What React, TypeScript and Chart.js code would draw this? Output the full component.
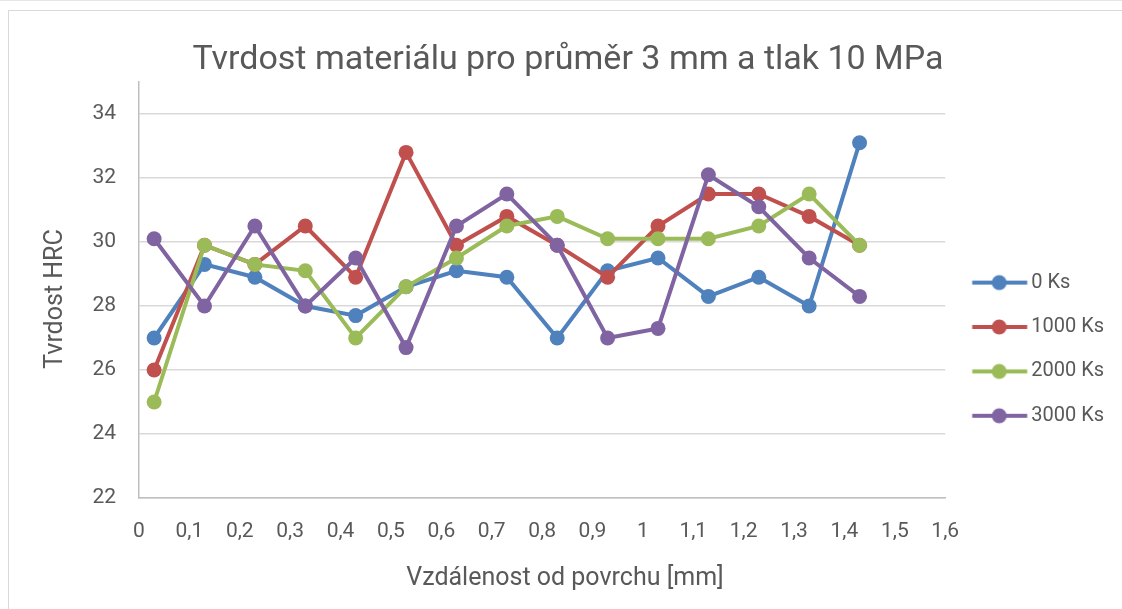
import React, { useEffect, useRef } from "react";
import { Chart, registerables } from "chart.js";

Chart.register(...registerables);

const xValues = [0.03, 0.13, 0.23, 0.33, 0.43, 0.53, 0.63, 0.73, 0.83, 0.93, 1.03, 1.13, 1.23, 1.33, 1.43];
const seriesNames = ["0 Ks", "1000 Ks", "2000 Ks", "3000 Ks"];
const s0 = [27.0, 29.3, 28.9, 28.0, 27.7, 28.6, 29.1, 28.9, 27.0, 29.1, 29.5, 28.3, 28.9, 28.0, 33.1];
const s1000 = [26.0, 29.9, 29.3, 30.5, 28.9, 32.8, 29.9, 30.8, 29.9, 28.9, 30.5, 31.5, 31.5, 30.8, 29.9];
const s2000 = [25.0, 29.9, 29.3, 29.1, 27.0, 28.6, 29.5, 30.5, 30.8, 30.1, 30.1, 30.1, 30.5, 31.5, 29.9];
const s3000 = [30.1, 28.0, 30.5, 28.0, 29.5, 26.7, 30.5, 31.5, 29.9, 27.0, 27.3, 32.1, 31.1, 29.5, 28.3];
const seriesValues = [s0, s1000, s2000, s3000];
const colors = ["#4f81bd", "#c0504d", "#9bbb59", "#8064a2"];
const xTicks = [0, 0.1, 0.2, 0.3, 0.4, 0.5, 0.6, 0.7, 0.8, 0.9, 1.0, 1.1, 1.2, 1.3, 1.4, 1.5, 1.6];
const yTicks = [22, 24, 26, 28, 30, 32, 34];
const chartTitle = "Tvrdost materiálu pro průměr 3 mm a tlak 10 MPa";
const xTitle = "Vzdálenost od povrchu [mm]";
const yTitle = "Tvrdost HRC";

const TEXT = "#595959";
const FONT = "Roboto";
const FRAME_LEFT = 8;

function makeLegendImage(color: string): HTMLCanvasElement {
  const c = document.createElement("canvas");
  c.width = 66;
  c.height = 20;
  const ctx = c.getContext("2d")!;
  ctx.strokeStyle = color;
  ctx.lineWidth = 4;
  ctx.beginPath();
  ctx.moveTo(9.8, 10);
  ctx.lineTo(64.8, 10);
  ctx.stroke();
  ctx.fillStyle = color;
  ctx.beginPath();
  ctx.arc(36.8, 10, 7.5, 0, Math.PI * 2);
  ctx.fill();
  return c;
}

const axisTitlePlugin = {
  id: "axisTitles",
  afterDraw(chart: any) {
    const { ctx, chartArea } = chart;
    ctx.save();
    ctx.fillStyle = TEXT;
    ctx.font = `25px ${FONT}`;
    ctx.textAlign = "center";
    ctx.textBaseline = "middle";
    ctx.fillText(xTitle, (FRAME_LEFT + chart.width) / 2, chart.height - 30);
    ctx.translate(56, (chartArea.top + chartArea.bottom) / 2 + 9);
    ctx.rotate(-Math.PI / 2);
    ctx.fillText(yTitle, 0, 0);
    ctx.restore();
  },
};

export default function App() {
  const ref = useRef<HTMLCanvasElement | null>(null);

  useEffect(() => {
    if (!ref.current) return;
    const legendImages = colors.map(makeLegendImage);
    const chart = new Chart(ref.current, {
      type: "line",
      data: {
        datasets: seriesValues.map((vals, i) => ({
          label: seriesNames[i],
          data: xValues.map((x, j) => ({ x, y: vals[j] })),
          borderColor: colors[i],
          backgroundColor: colors[i],
          borderWidth: 4,
          pointRadius: 7.5,
          pointHoverRadius: 7.5,
          pointBorderWidth: 0,
          pointBackgroundColor: colors[i],
          tension: 0,
          fill: false,
          order: seriesValues.length - i,
        })),
      },
      plugins: [axisTitlePlugin],
      options: {
        animation: false,
        responsive: false,
        events: [],
        layout: { padding: { left: 22, right: 8, top: 0, bottom: 0 } },
        plugins: {
          title: {
            display: true,
            text: chartTitle,
            color: TEXT,
            font: { family: FONT, size: 34, weight: "normal" },
            padding: { top: 40, bottom: 1.2 },
          },
          legend: {
            position: "right",
            align: "center",
            maxWidth: 176,
            title: {
              display: true,
              text: " ",
              font: { family: FONT, size: 1 },
              padding: { top: 88.2, bottom: 0 },
            },
            labels: {
              usePointStyle: true,
              pointStyleWidth: 51.6,
              boxHeight: 20,
              padding: 24.4,
              color: TEXT,
              font: { family: FONT, size: 20 },
              generateLabels: (ch: any) =>
                ch.data.datasets.map((ds: any, i: number) => ({
                  text: ds.label,
                  fillStyle: colors[i],
                  strokeStyle: colors[i],
                  lineWidth: 0,
                  pointStyle: legendImages[i],
                  datasetIndex: i,
                  hidden: false,
                  fontColor: TEXT,
                })),
            },
          },
          tooltip: { enabled: false },
        },
        scales: {
          x: {
            type: "linear",
            min: 0,
            max: 1.6,
            afterBuildTicks: (scale: any) => {
              scale.ticks = xTicks.map((v) => ({ value: v }));
            },
            afterFit: (scale: any) => {
              scale.height = 111;
            },
            grid: { display: false, drawTicks: false },
            border: { display: true, color: "#bfbfbf", width: 1.5 },
            ticks: {
              color: TEXT,
              font: { family: FONT, size: 21 },
              padding: 21,
              maxRotation: 0,
              autoSkip: false,
              callback: (v: any) => String(Number(Number(v).toFixed(1))).replace(".", ","),
            },
            title: { display: false },
          },
          y: {
            type: "linear",
            min: 22,
            max: 35,
            afterBuildTicks: (scale: any) => {
              scale.ticks = yTicks.map((v) => ({ value: v }));
            },
            afterFit: (scale: any) => {
              scale.width = 117;
            },
            grid: { color: "#d9d9d9", lineWidth: 1.5, drawTicks: false },
            border: { display: true, color: "#bfbfbf", width: 1.5 },
            ticks: {
              color: TEXT,
              font: { family: FONT, size: 21 },
              padding: 23,
              callback: (v: any) => String(v),
            },
            title: { display: false },
          },
        },
      },
    });
    return () => chart.destroy();
  }, []);

  return (
    <div>
      <div style={{ position: "fixed", left: 0, top: 0, width: 1122, height: 1, background: "#e6e6e6" }} />
      <div
        style={{
          position: "fixed",
          left: FRAME_LEFT,
          top: 10,
          width: 1200,
          height: 700,
          border: "1px solid #d9d9d9",
          boxSizing: "border-box",
        }}
      />
      <canvas
        ref={ref}
        width={1122}
        height={609}
        style={{ position: "fixed", left: 0, top: 0, width: 1122, height: 609 }}
      />
    </div>
  );
}
